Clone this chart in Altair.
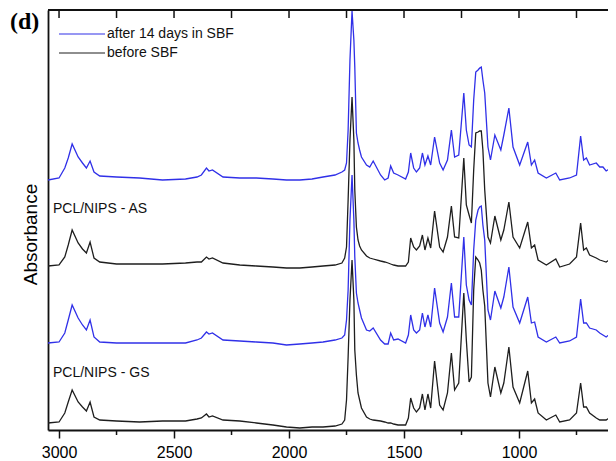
import altair as alt
import pandas as pd

# wavenumbers (cm-1) shared by all four spectra
wavenumber = [3048, 3000, 2975, 2960, 2943, 2917, 2898, 2881, 2865, 2848,
              2823, 2750, 2650, 2550, 2450, 2400, 2381, 2359, 2348, 2333,
              2287, 2214, 2142, 2070, 2011, 1953, 1900, 1852, 1800, 1770,
              1758, 1750, 1743, 1735, 1726, 1718, 1714, 1707, 1700, 1693,
              1685, 1663, 1649, 1634, 1602, 1584, 1569, 1558, 1545, 1526,
              1493, 1481, 1471, 1458, 1446, 1432, 1420, 1409, 1396, 1384,
              1367, 1345, 1330, 1311, 1294, 1280, 1262, 1240, 1229, 1217,
              1207, 1197, 1188, 1178, 1171, 1164, 1157, 1149, 1135, 1124,
              1105, 1079, 1066, 1044, 1026, 997, 962, 946, 932, 917,
              881, 840, 823, 780, 750, 732, 719, 707, 693, 664,
              649, 635, 621, 594, 580]

# offset absorbance (arbitrary units), top to bottom
as_after = [251, 253, 263, 273, 287, 274, 268, 263, 270, 259,
            255, 254, 253, 251, 252, 254, 256, 263, 260, 261,
            254, 253, 253, 252, 251, 251, 252, 254, 256, 259,
            261, 268, 301, 371, 420, 391, 364, 298, 288, 281,
            274, 266, 264, 270, 256, 251, 253, 265, 258, 256,
            252, 259, 278, 263, 259, 263, 278, 266, 275, 266,
            294, 268, 261, 271, 301, 274, 276, 338, 301, 286,
            284, 331, 359, 361, 363, 364, 351, 338, 284, 271,
            296, 281, 296, 323, 284, 266, 289, 266, 271, 258,
            253, 258, 251, 253, 256, 295, 271, 273, 266, 268,
            264, 264, 260, 264, 261]

as_before = [165, 166, 174, 186, 201, 188, 182, 178, 189, 173,
             169, 167, 167, 167, 168, 169, 169, 174, 172, 173,
             168, 166, 165, 164, 163, 163, 164, 165, 166, 168,
             173, 184, 231, 291, 334, 291, 241, 204, 191, 185,
             181, 175, 173, 172, 170, 169, 168, 167, 166, 165,
             165, 169, 193, 184, 181, 185, 196, 181, 193, 183,
             220, 184, 179, 194, 225, 194, 193, 273, 226, 216,
             208, 261, 298, 299, 300, 300, 281, 241, 194, 188,
             215, 191, 201, 229, 194, 183, 209, 183, 186, 171,
             166, 172, 164, 167, 174, 208, 181, 183, 176, 173,
             171, 170, 169, 173, 171]

gs_after = [88, 89, 98, 111, 126, 113, 106, 101, 111, 94,
            89, 88, 88, 88, 88, 91, 93, 99, 97, 98,
            91, 90, 89, 88, 86, 87, 88, 89, 91, 93,
            96, 111, 141, 211, 256, 211, 174, 138, 128, 121,
            113, 101, 100, 103, 91, 87, 87, 98, 91, 92,
            88, 96, 116, 101, 98, 101, 118, 104, 116, 104,
            143, 108, 99, 114, 148, 114, 114, 194, 146, 131,
            126, 181, 211, 221, 224, 225, 206, 191, 121, 111,
            140, 123, 134, 164, 124, 108, 134, 108, 109, 94,
            89, 94, 88, 90, 94, 132, 108, 108, 103, 101,
            98, 96, 94, 99, 94]

gs_before = [8, 9, 18, 29, 41, 29, 24, 20, 29, 14,
             11, 10, 9, 10, 10, 12, 13, 17, 14, 15,
             11, 10, 8, 6, 4, 3, 4, 4, 5, 7,
             11, 31, 74, 131, 171, 131, 81, 56, 38, 31,
             23, 14, 12, 11, 10, 9, 8, 8, 7, 6,
             6, 13, 33, 23, 19, 23, 37, 21, 37, 23,
             70, 26, 21, 38, 78, 41, 48, 138, 91, 49,
             54, 141, 174, 171, 168, 161, 141, 125, 48, 34,
             64, 38, 48, 84, 44, 28, 60, 28, 32, 18,
             11, 16, 9, 11, 18, 48, 24, 24, 18, 13,
             11, 11, 11, 15, 13]

series_names = ["AS after", "AS before", "GS after", "GS before"]
series_values = [as_after, as_before, gs_after, gs_before]
series_colors = ["#3030e8", "#1e1e1e", "#3030e8", "#1e1e1e"]

legend_labels = ["after 14 days in SBF", "before SBF"]
sample_labels = ["PCL/NIPS - AS", "PCL/NIPS - GS"]
major_ticks = [3000, 2500, 2000, 1500, 1000]
all_ticks = [3000, 2750, 2500, 2250, 2000, 1750, 1500, 1250, 1000, 750]
minor_ticks = [2750, 2250, 1750, 1250, 750]

rows = []
for name, vals in zip(series_names, series_values):
    for w, v in zip(wavenumber, vals):
        rows.append({"series": name, "wn": w, "absorbance": v})
df = pd.DataFrame(rows)

W, H = 560, 420
FONT = "Liberation Sans"
AX = "#111111"

xscale = alt.Scale(domain=[613, 3048], reverse=True, nice=False, zero=False)
yscale = alt.Scale(domain=[1, 421], nice=False, zero=False)

bottom_axis = alt.Axis(
    orient="bottom", values=major_ticks, format="d", tickSize=8,
    tickWidth=1.5, tickColor=AX, domainColor=AX, domainWidth=1.8,
    labelFont=FONT, labelFontSize=16, labelColor="#000000", labelPadding=6,
    labelFlush=False, grid=False, title=None,
)
y_axis = alt.Axis(
    ticks=False, labels=False, grid=False, domainColor=AX, domainWidth=1.8,
    title="Absorbance", titleFont=FONT, titleFontSize=19, titleFontWeight="normal",
    titleColor="#000000", titleAngle=270, titleBaseline="middle", titleAlign="center",
    titleX=-18, titleY=224,
)


def xenc(field):
    return alt.X(field, scale=xscale, axis=bottom_axis, title=None)


lines = alt.Chart(df).mark_line(strokeWidth=1.3, clip=True).encode(
    x=xenc("wn:Q"),
    y=alt.Y("absorbance:Q", scale=yscale, axis=y_axis),
    color=alt.Color("series:N", scale=alt.Scale(domain=series_names, range=series_colors), legend=None),
)

# inward ticks on the top frame
top_ticks = alt.Chart(pd.DataFrame({"tick": all_ticks})).mark_rule(color=AX, strokeWidth=1.5).encode(
    x=xenc("tick:Q"),
    y=alt.value(0), y2=alt.value(8),
)
# short minor ticks below the bottom axis
minor = alt.Chart(pd.DataFrame({"tick": minor_ticks})).mark_rule(color=AX, strokeWidth=1.5).encode(
    x=xenc("tick:Q"),
    y=alt.value(H), y2=alt.value(H + 5),
)

one = pd.DataFrame({"k": [0]})
top_border = alt.Chart(one).mark_rule(color=AX, strokeWidth=1.8).encode(
    x=alt.value(0), x2=alt.value(W), y=alt.value(0)
)

leg_blue = alt.Chart(one).mark_rule(color=series_colors[0], strokeWidth=1.2).encode(
    x=alt.value(11), x2=alt.value(57), y=alt.value(24)
)
leg_black = alt.Chart(one).mark_rule(color=series_colors[1], strokeWidth=1.2).encode(
    x=alt.value(11), x2=alt.value(57), y=alt.value(43)
)

text_style = dict(font=FONT, fontSize=14, color="#111111", align="left", baseline="middle")


def label(txt, x, y, **style):
    return alt.Chart(pd.DataFrame({"t": [txt]})).mark_text(**style).encode(
        text="t:N", x=alt.value(x), y=alt.value(y))


leg_t1 = label(legend_labels[0], 59, 24, **text_style)
leg_t2 = label(legend_labels[1], 59, 43, **text_style)
lab_as = label(sample_labels[0], 5, 199, **text_style)
lab_gs = label(sample_labels[1], 5, 363, **text_style)
panel = label("(d)", -38, 19, font="Liberation Serif", fontSize=24, fontWeight="bold",
              color="#000000", align="left", baseline="alphabetic")

chart = alt.layer(
    lines, top_ticks, minor, top_border, leg_blue, leg_black, leg_t1, leg_t2, lab_as, lab_gs, panel
).properties(
    width=W, height=H, autosize="none",
    padding={"left": 40, "top": 2, "right": 0, "bottom": 30},
).configure_view(stroke=None)

chart.save("out.html", embed_options={"renderer": "svg", "actions": False})
